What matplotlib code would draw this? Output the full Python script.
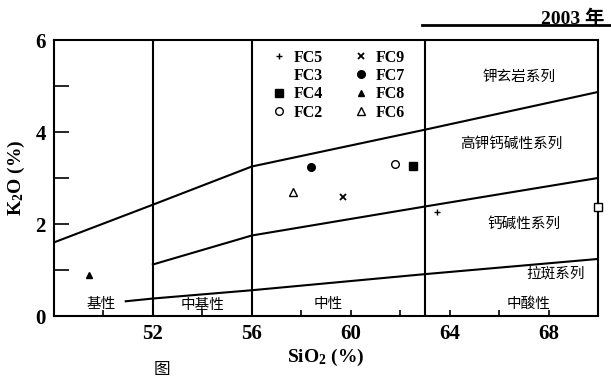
import matplotlib
matplotlib.use("Agg")
import matplotlib.pyplot as plt
from matplotlib.lines import Line2D

plt.rcParams['mathtext.default'] = 'regular'

# ---- data ----
sample_names = ['FC5', 'FC3', 'FC4', 'FC2', 'FC9', 'FC7', 'FC8', 'FC6']
sio2_values = [63.5, 70.0, 62.5, 61.8, 59.7, 58.4, 49.4, 57.65]
k2o_values = [2.26, 2.37, 3.27, 3.31, 2.59, 3.24, 0.90, 2.69]

# series boundaries (SiO2, K2O)
shosh_sio2 = [48, 52, 56, 63, 70]
shosh_k2o = [1.6, 2.42, 3.25, 4.05, 4.87]
highk_sio2 = [52, 56, 63, 70]
highk_k2o = [1.12, 1.75, 2.38, 3.0]
tholei_sio2 = [50.9, 52, 56, 63, 70]
tholei_k2o = [0.32, 0.38, 0.56, 0.91, 1.24]
divider_sio2 = [52, 56, 63]

xtick_values = [50, 52, 54, 56, 58, 60, 62, 64, 66, 68]
xtick_labels = ['', '52', '', '56', '', '60', '', '64', '', '68']
ytick_values = [0, 1, 2, 3, 4, 5, 6]
ytick_labels = ['0', '', '2', '', '4', '', '6']

region_labels = ['基性', '中基性', '中性', '中酸性', '拉斑系列', '钙碱性系列',
                 '高钾钙碱性系列', '钾玄岩系列']
region_x = [49.9, 54.0, 59.1, 67.2, 68.3, 67.0, 66.5, 66.8]
region_y = [0.27, 0.24, 0.27, 0.27, 0.92, 2.0, 3.75, 5.2]

# ---- styles ----
marker_style = {
    'FC5': dict(marker='+', ms=5, mfc='black', mec='black', mew=1.0),
    'FC3': dict(marker='s', ms=6, mfc='white', mec='black', mew=1.0),
    'FC4': dict(marker='s', ms=5.5, mfc='black', mec='black', mew=1.0),
    'FC2': dict(marker='o', ms=5.5, mfc='white', mec='black', mew=1.0),
    'FC9': dict(marker='x', ms=4.5, mfc='black', mec='black', mew=1.3),
    'FC7': dict(marker='o', ms=5.5, mfc='black', mec='black', mew=1.0),
    'FC8': dict(marker='^', ms=4.5, mfc='black', mec='black', mew=1.0),
    'FC6': dict(marker='^', ms=5.5, mfc='white', mec='black', mew=1.0),
}

serif_bold = dict(family='Liberation Serif', weight='bold')
cjk = dict(family=['Noto Sans CJK SC', 'DejaVu Sans'])

fig = plt.figure(figsize=(6.11, 3.8), dpi=100)
ax = fig.add_axes([54 / 611, 1 - 316 / 380, 544 / 611, 276 / 380])
ax.set_xlim(48, 70)
ax.set_ylim(0, 6)

lw = 1.5
for s in ax.spines.values():
    s.set_linewidth(lw)

ax.plot(shosh_sio2, shosh_k2o, color='black', lw=lw)
ax.plot(highk_sio2, highk_k2o, color='black', lw=lw)
ax.plot(tholei_sio2, tholei_k2o, color='black', lw=lw)
for xv in divider_sio2:
    ax.axvline(xv, color='black', lw=lw)

for name, xv, yv in zip(sample_names, sio2_values, k2o_values):
    ax.plot([xv], [yv], linestyle='none', clip_on=False, zorder=5,
            **marker_style[name])

# legend
handles = []
for name in sample_names:
    st = dict(marker_style[name])
    if name == 'FC3':
        st['marker'] = 'None'
    handles.append(Line2D([], [], linestyle='none', **st))
leg = ax.legend(handles, sample_names, ncol=2, frameon=False,
                loc='upper left', bbox_to_anchor=(0.385, 1.0),
                handlelength=0.8, handletextpad=0.5, columnspacing=2.0,
                labelspacing=0.15, borderaxespad=0.2,
                prop=dict(family='Liberation Serif', weight='bold', size=11.5))

for lab, xv, yv in zip(region_labels, region_x, region_y):
    ax.text(xv, yv, lab, ha='center', va='center', fontsize=10.5, **cjk)

ax.set_xticks(xtick_values)
ax.set_xticklabels(xtick_labels)
ax.set_yticks(ytick_values)
ax.set_yticklabels(ytick_labels)
ax.tick_params(axis='x', direction='in', length=4, width=1.2, pad=6)
ax.tick_params(axis='y', direction='in', length=11, width=1.2, pad=6)
for t in ax.get_xticklabels() + ax.get_yticklabels():
    t.set_fontfamily('Liberation Serif')
    t.set_fontweight('bold')
    t.set_fontsize(15)

ax.set_xlabel('SiO$_2$ (%)', fontsize=14, labelpad=2, **serif_bold)
ax.set_ylabel('K$_2$O (%)', fontsize=14, labelpad=6, **serif_bold)

fig.text(0.99, 0.975, '2003 年', ha='right', va='top', fontsize=14,
         family=['Liberation Serif', 'Noto Sans CJK SC'], weight='bold')
fig.add_artist(Line2D([0.69, 1.0], [0.935, 0.935], transform=fig.transFigure,
                      color='black', lw=2))
fig.text(0.265, 0.005, '图', ha='center', va='bottom', fontsize=12, **cjk)

fig.savefig('out.png', dpi=100)
